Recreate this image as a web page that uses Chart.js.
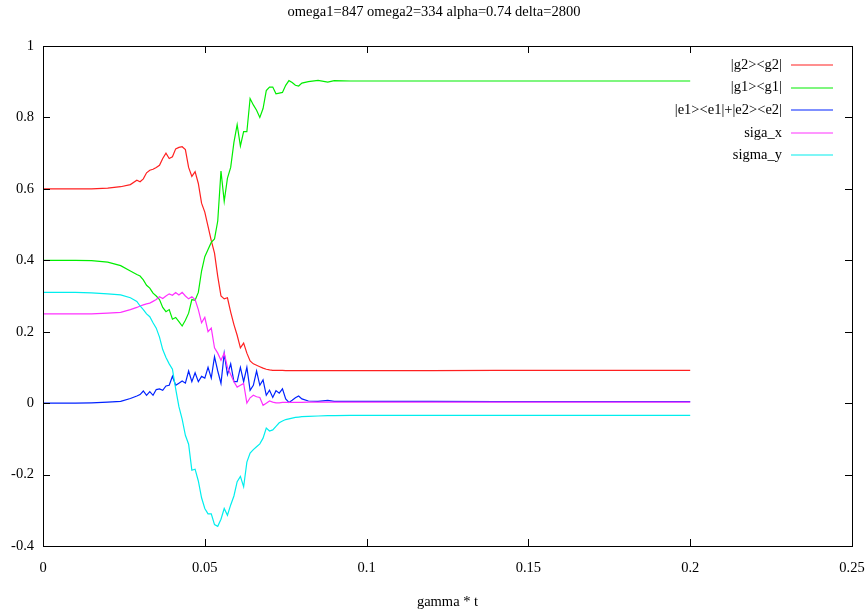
<!DOCTYPE html>
<html>
<head>
<meta charset="utf-8">
<title>populations</title>
<script src="https://cdn.jsdelivr.net/npm/chart.js@4.4.1/dist/chart.umd.min.js"></script>
<style>
  html, body { margin: 0; padding: 0; background: #fff; }
  .plot-box { width: 868px; height: 615px; position: relative; }
</style>
</head>
<body>
<div class="plot-box"><canvas id="plot"></canvas></div>
<script>
//------ Data ------//
const gammaT = [0, 0.005, 0.01, 0.015, 0.02, 0.024, 0.027, 0.029,
  0.030, 0.031, 0.032, 0.033, 0.034, 0.035, 0.036, 0.037, 0.038, 0.039,
  0.040, 0.041, 0.042, 0.043, 0.044, 0.045, 0.046, 0.047, 0.048, 0.049,
  0.050, 0.051, 0.052, 0.053, 0.054, 0.055, 0.056, 0.057, 0.058, 0.059,
  0.060, 0.061, 0.062, 0.063, 0.064, 0.065, 0.066, 0.067, 0.068, 0.069,
  0.070, 0.071, 0.072, 0.073, 0.074, 0.075, 0.076, 0.077, 0.078, 0.079,
  0.080, 0.082, 0.085, 0.088, 0.09, 0.095, 0.1, 0.11, 0.12, 0.14, 0.16, 0.18, 0.2];

const g2g2 = [0.6, 0.6, 0.6, 0.6, 0.602, 0.606, 0.612, 0.624,
  0.62, 0.628, 0.645, 0.652, 0.655, 0.66, 0.666, 0.685, 0.70, 0.685,
  0.69, 0.712, 0.716, 0.718, 0.71, 0.66, 0.635, 0.648, 0.615, 0.56,
  0.535, 0.495, 0.455, 0.42, 0.355, 0.30, 0.292, 0.295, 0.255, 0.22,
  0.19, 0.155, 0.168, 0.14, 0.118, 0.11, 0.106, 0.102, 0.098, 0.095,
  0.093, 0.092, 0.092, 0.092, 0.092, 0.091, 0.091, 0.091, 0.091, 0.091,
  0.091, 0.091, 0.091, 0.091, 0.091, 0.091, 0.091, 0.091, 0.091, 0.092, 0.092, 0.092, 0.092];

const g1g1 = [0.4, 0.4, 0.4, 0.399, 0.395, 0.385, 0.37, 0.36,
  0.356, 0.345, 0.33, 0.322, 0.308, 0.30, 0.29, 0.268, 0.256, 0.262,
  0.235, 0.24, 0.228, 0.216, 0.232, 0.252, 0.29, 0.288, 0.31, 0.37,
  0.41, 0.43, 0.45, 0.46, 0.51, 0.65, 0.565, 0.63, 0.66, 0.73,
  0.78, 0.72, 0.76, 0.76, 0.853, 0.835, 0.82, 0.80, 0.825, 0.875,
  0.885, 0.885, 0.866, 0.868, 0.87, 0.89, 0.903, 0.898, 0.89, 0.888,
  0.896, 0.90, 0.904, 0.899, 0.903, 0.902, 0.902, 0.902, 0.902, 0.902, 0.902, 0.902, 0.902];

const excited = [0, 0, 0, 0.001, 0.003, 0.005, 0.013, 0.02,
  0.024, 0.034, 0.022, 0.032, 0.022, 0.038, 0.04, 0.036, 0.048, 0.05,
  0.075, 0.05, 0.056, 0.062, 0.056, 0.09, 0.06, 0.085, 0.06, 0.075,
  0.07, 0.10, 0.07, 0.13, 0.09, 0.055, 0.139, 0.08, 0.11, 0.06,
  0.06, 0.10, 0.06, 0.10, 0.036, 0.05, 0.09, 0.05, 0.065, 0.022,
  0.036, 0.016, 0.035, 0.028, 0.04, 0.012, 0.002, 0.008, 0.015, 0.02,
  0.012, 0.006, 0.005, 0.008, 0.005, 0.005, 0.005, 0.005, 0.005, 0.004, 0.004, 0.004, 0.004];

const sigaX = [0.25, 0.25, 0.25, 0.25, 0.252, 0.254, 0.262, 0.268,
  0.272, 0.275, 0.278, 0.28, 0.285, 0.29, 0.298, 0.293, 0.30, 0.306,
  0.302, 0.31, 0.303, 0.31, 0.30, 0.292, 0.298, 0.29, 0.262, 0.225,
  0.24, 0.20, 0.21, 0.155, 0.14, 0.12, 0.14, 0.10, 0.08, 0.06,
  0.045, 0.05, 0.055, 0.0, 0.015, 0.022, 0.018, 0.016, -0.006, 0.0,
  0.006, 0.003, 0.001, 0.001, 0.002, 0.002, 0.002, 0.002, 0.002, 0.002,
  0.002, 0.003, 0.003, 0.003, 0.003, 0.003, 0.003, 0.003, 0.003, 0.003, 0.003, 0.003, 0.003];

const sigmaY = [0.31, 0.31, 0.31, 0.309, 0.306, 0.303, 0.295, 0.285,
  0.272, 0.262, 0.25, 0.242, 0.225, 0.21, 0.185, 0.15, 0.128, 0.11,
  0.095, 0.04, -0.01, -0.045, -0.09, -0.115, -0.188, -0.185, -0.218, -0.265,
  -0.295, -0.31, -0.31, -0.34, -0.345, -0.325, -0.295, -0.314, -0.285, -0.26,
  -0.22, -0.205, -0.234, -0.165, -0.14, -0.13, -0.122, -0.114, -0.098, -0.07,
  -0.078, -0.075, -0.065, -0.055, -0.05, -0.046, -0.044, -0.042, -0.04, -0.039,
  -0.038, -0.037, -0.036, -0.035, -0.035, -0.034, -0.034, -0.034, -0.034, -0.034, -0.034, -0.034, -0.034];

const seriesNames = ['|g2><g2|', '|g1><g1|', '|e1><e1|+|e2><e2|', 'siga_x', 'sigma_y'];
const seriesColors = ['#ff2020', '#00ee00', '#0022ff', '#ff30ff', '#00eeee'];
const plotTitle = 'omega1=847 omega2=334 alpha=0.74 delta=2800';
const xLabel = 'gamma * t';

const FONT = 'Liberation Serif, Times New Roman, serif';
Chart.defaults.color = '#000';
Chart.defaults.font.family = FONT;
Chart.defaults.font.size = 14.5;

function toPoints(ys) {
  return gammaT.map((t, i) => ({x: t, y: ys[i]}));
}

// gnuplot style numbers: 0, 0.05, 0.1, 1
function plainNumber(value) {
  const v = Math.abs(value) < 1e-9 ? 0 : value;
  return String(parseFloat(v.toFixed(3)));
}

//------ Gnuplot style frame, inward ticks and legend ------//
const gnuFrame = {
  id: 'gnuFrame',
  afterDatasetsDraw(chart) {
    const {ctx, chartArea: a, scales: {x, y}} = chart;
    const tick = 7;
    ctx.save();
    ctx.strokeStyle = '#000';
    ctx.lineWidth = 1;
    ctx.beginPath();
    x.ticks.forEach(t => {
      const px = Math.round(x.getPixelForValue(t.value)) + 0.5;
      ctx.moveTo(px, a.bottom); ctx.lineTo(px, a.bottom - tick);
      ctx.moveTo(px, a.top); ctx.lineTo(px, a.top + tick);
    });
    y.ticks.forEach(t => {
      const py = Math.round(y.getPixelForValue(t.value)) + 0.5;
      ctx.moveTo(a.left, py); ctx.lineTo(a.left + tick, py);
      ctx.moveTo(a.right, py); ctx.lineTo(a.right - tick, py);
    });
    ctx.stroke();
    ctx.strokeRect(Math.round(a.left) + 0.5, Math.round(a.top) + 0.5,
      Math.round(a.right - a.left), Math.round(a.bottom - a.top));

    // legend, top right inside the frame
    ctx.font = '14.5px ' + FONT;
    ctx.textAlign = 'right';
    ctx.textBaseline = 'middle';
    ctx.lineWidth = 1.2;
    chart.data.datasets.forEach((ds, i) => {
      const ly = a.top + 19 + i * 22.6;
      ctx.fillStyle = '#000';
      ctx.fillText(ds.label, a.right - 70, ly);
      ctx.beginPath();
      ctx.strokeStyle = seriesColors[i];
      ctx.moveTo(a.right - 61, Math.round(ly));
      ctx.lineTo(a.right - 19, Math.round(ly));
      ctx.stroke();
    });
    ctx.restore();
  }
};

//------ Chart ------//
const allSeries = [g2g2, g1g1, excited, sigaX, sigmaY];

new Chart(document.getElementById('plot'), {
  type: 'line',
  data: {
    datasets: allSeries.map((ys, i) => ({
      label: seriesNames[i],
      data: toPoints(ys),
      borderColor: seriesColors[i],
      backgroundColor: seriesColors[i],
      borderWidth: 1.2,
      pointRadius: 0,
      tension: 0,
      order: allSeries.length - i
    }))
  },
  options: {
    responsive: true,
    maintainAspectRatio: false,
    animation: false,
    layout: { padding: 0 },
    scales: {
      x: {
        type: 'linear',
        min: 0,
        max: 0.25,
        ticks: { stepSize: 0.05, padding: 13, maxRotation: 0, callback: plainNumber },
        grid: { display: false, drawTicks: false },
        border: { display: false },
        title: { display: true, text: xLabel, padding: { top: 0, bottom: 4 } },
        // fix the frame: 69px below it, 16px right of it
        afterFit: (scale) => {
          scale.height = 69;
          scale.paddingLeft = 0;
          scale.paddingRight = 16;
        }
      },
      y: {
        min: -0.4,
        max: 1,
        ticks: { stepSize: 0.2, padding: 9, callback: plainNumber },
        grid: { display: false, drawTicks: false },
        border: { display: false },
        afterFit: (scale) => {
          scale.width = 43;
          scale.paddingTop = 0;
          scale.paddingBottom = 0;
        }
      }
    },
    plugins: {
      legend: { display: false },
      tooltip: { enabled: false },
      title: {
        display: true,
        text: plotTitle,
        font: { size: 14.5, weight: 'normal', lineHeight: '17px' },
        padding: { top: 4, bottom: 25 }
      }
    }
  },
  plugins: [gnuFrame]
});
</script>
</body>
</html>
